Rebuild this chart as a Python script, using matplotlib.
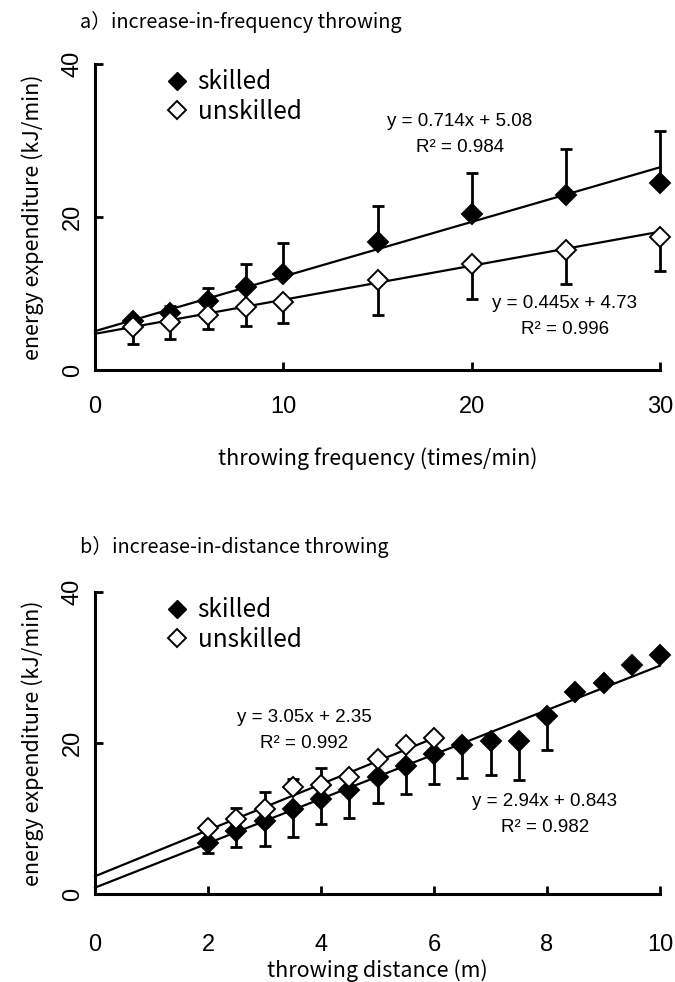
import numpy as np
import matplotlib.pyplot as plt
from matplotlib.lines import Line2D

# a) increase-in-frequency throwing
freq = [2, 4, 6, 8, 10, 15, 20, 25, 30]
freq_skilled = [6.4, 7.5, 9.0, 10.9, 12.6, 16.7, 20.4, 22.9, 24.5]
freq_skilled_sd = [0.3, 0.9, 1.75, 2.9, 4.0, 4.7, 5.4, 6.0, 6.8]
freq_unskilled = [5.6, 6.3, 7.2, 8.2, 8.9, 11.7, 13.8, 15.7, 17.4]
freq_unskilled_sd = [2.25, 2.2, 1.9, 2.5, 2.8, 4.5, 4.55, 4.4, 4.4]
fit_a = {"skilled": (0.714, 5.08, 0.984), "unskilled": (0.445, 4.73, 0.996)}

# b) increase-in-distance throwing
dist_skilled_x = [2, 2.5, 3, 3.5, 4, 4.5, 5, 5.5, 6, 6.5, 7, 7.5, 8, 8.5, 9, 9.5, 10]
dist_skilled = [6.8, 8.4, 9.7, 11.3, 12.6, 13.8, 15.5, 16.9, 18.5, 19.8, 20.3, 20.3,
                23.6, 26.8, 27.9, 30.3, 31.6]
dist_skilled_sd = [1.4, 2.2, 3.3, 3.8, 3.3, 3.7, 3.5, 3.7, 3.9, 4.4, 4.6, 5.2,
                   4.5, 0, 0, 0, 0]
dist_unskilled_x = [2, 2.5, 3, 3.5, 4, 4.5, 5, 5.5, 6]
dist_unskilled = [8.8, 10.0, 11.2, 14.2, 14.4, 15.5, 17.9, 19.8, 20.6]
dist_unskilled_sd = [0.3, 1.4, 2.3, 1.0, 2.3, 0.3, 0.3, 0.3, 0.3]
fit_b = {"skilled": (2.94, 0.843, 0.982), "unskilled": (3.05, 2.35, 0.992)}

JP = ['Noto Sans CJK JP', 'DejaVu Sans']
NUM = ['Liberation Sans', 'DejaVu Sans']

fig = plt.figure(figsize=(6.75, 9.82), dpi=100)
W, H = 675.0, 982.0


def make_axes(top_px, bottom_px):
    return fig.add_axes([95 / W, 1 - bottom_px / H, 565 / W, (bottom_px - top_px) / H])


def style(ax, xticks, xmax, xlabel, xpad, xlabelpad):
    ax.set_xlim(0, xmax)
    ax.set_ylim(0, 40)
    for s in ['top', 'right']:
        ax.spines[s].set_visible(False)
    for s in ['left', 'bottom']:
        ax.spines[s].set_linewidth(2.2)
    ax.set_xticks(xticks)
    ax.set_yticks([0, 20, 40])
    ax.tick_params(direction='in', length=6, width=2)
    ax.tick_params(axis='x', pad=xpad)
    ax.tick_params(axis='y', pad=8)
    for lbl in ax.get_xticklabels():
        lbl.set_family(NUM)
        lbl.set_fontsize(17)
    for lbl in ax.get_yticklabels():
        lbl.set_family(NUM)
        lbl.set_fontsize(17)
        lbl.set_rotation(90)
        lbl.set_va('center')
    ax.set_xlabel(xlabel, family=JP, fontsize=15.5, labelpad=xlabelpad)
    ax.set_ylabel('energy expenditure (kJ/min)', family=JP, fontsize=15.5, labelpad=13)
    handles = [
        Line2D([], [], ls='none', marker='D', ms=9, mfc='black', mec='black'),
        Line2D([], [], ls='none', marker='D', ms=9, mfc='white', mec='black', mew=1.4),
    ]
    ax.legend(handles, ['skilled', 'unskilled'], loc='upper left',
              bbox_to_anchor=(0.089, 1.055), frameon=False, handlelength=0.8,
              handletextpad=0.45, labelspacing=0.15, prop={'family': JP, 'size': 17.5})


def series(ax, x, y, sd, filled, upper):
    x = np.array(x)
    y = np.array(y)
    sd = np.array(sd)
    yerr = [np.zeros_like(sd), sd] if upper else [sd, np.zeros_like(sd)]
    ax.errorbar(x, y, yerr=yerr, fmt='none', ecolor='black', elinewidth=2,
                capsize=4, capthick=2, zorder=3, clip_on=False)
    ax.plot(x, y, ls='none', marker='D', ms=10,
            mfc='black' if filled else 'white', mec='black', mew=1.4,
            zorder=4, clip_on=False)


def fit_line(ax, slope, icpt, xmax):
    xs = np.array([0, xmax])
    ax.plot(xs, slope * xs + icpt, color='black', lw=1.6, zorder=2, clip_on=False)


def eq_text(px, py, slope, icpt, r2):
    fig.text(px / W, 1 - py / H, f'y = {slope}x + {icpt}', family=NUM,
             fontsize=13.5, ha='center', va='center')
    fig.text(px / W, 1 - (py + 26) / H, f'R\u00b2 = {r2}', family=NUM,
             fontsize=13.5, ha='center', va='center')


# panel a
ax1 = make_axes(64, 370)
fit_line(ax1, fit_a["skilled"][0], fit_a["skilled"][1], 30)
fit_line(ax1, fit_a["unskilled"][0], fit_a["unskilled"][1], 30)
series(ax1, freq, freq_skilled, freq_skilled_sd, True, True)
series(ax1, freq, freq_unskilled, freq_unskilled_sd, False, False)
style(ax1, [0, 10, 20, 30], 30, 'throwing frequency (times/min)', 19, 21)
eq_text(460, 122, *fit_a["skilled"])
eq_text(565, 304, *fit_a["unskilled"])
fig.text(80 / W, 1 - 22 / H, 'a\uff09increase-in-frequency throwing', family=JP,
         fontsize=14.3, va='center')

# panel b
ax2 = make_axes(592, 894)
fit_line(ax2, fit_b["skilled"][0], fit_b["skilled"][1], 10)
fit_line(ax2, fit_b["unskilled"][0], fit_b["unskilled"][1], 6)
series(ax2, dist_skilled_x, dist_skilled, dist_skilled_sd, True, False)
series(ax2, dist_unskilled_x, dist_unskilled, dist_unskilled_sd, False, True)
style(ax2, [0, 2, 4, 6, 8, 10], 10, 'throwing distance (m)', 29, 2)
eq_text(304, 717, *fit_b["unskilled"])
eq_text(545, 802, *fit_b["skilled"])
fig.text(80 / W, 1 - 547 / H, 'b\uff09increase-in-distance throwing', family=JP,
         fontsize=14.3, va='center')

fig.savefig('out.png', dpi=100)
